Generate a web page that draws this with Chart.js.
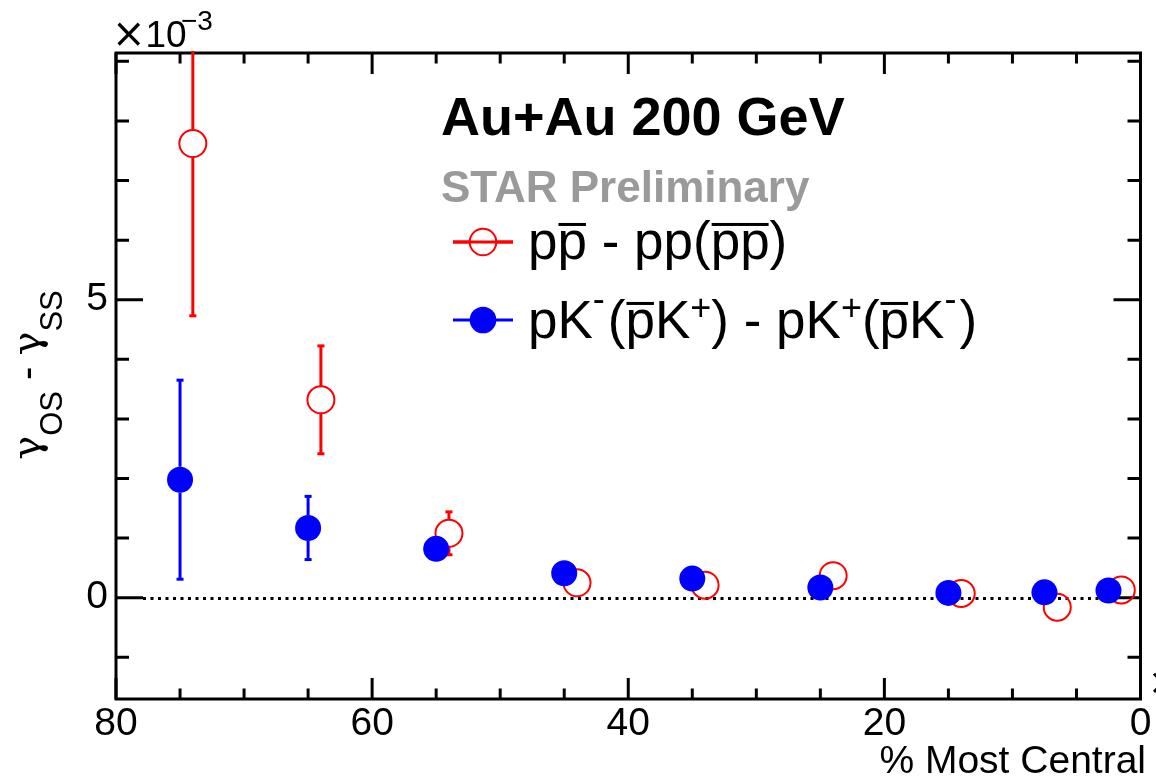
<!DOCTYPE html>
<html><head><meta charset="utf-8">
<script src="https://cdn.jsdelivr.net/npm/chart.js@4.4.1/dist/chart.umd.min.js"></script>
<style>html,body{margin:0;padding:0;background:#fff;}#wrap{width:1156px;height:777px;}</style>
</head><body><div id="wrap"><canvas id="c" width="1156" height="777"></canvas></div>
<script>
// ---- data (values in units of 1e-3) ----
const ppCentrality = [74, 64, 54, 44, 34, 24, 14, 6.5, 1.5];
const ppValues     = [7.62, 3.32, 1.08, 0.25, 0.21, 0.37, 0.07, -0.16, 0.13];
const ppErrors     = [2.89, 0.905, 0.36, 0.12, 0.12, 0.12, 0.12, 0.12, 0.12];
const pkCentrality = [75, 65, 55, 45, 35, 25, 15, 7.5, 2.5];
const pkValues     = [1.98, 1.17, 0.82, 0.41, 0.32, 0.17, 0.08, 0.09, 0.12];
const pkErrors     = [1.67, 0.53, 0.18, 0.1, 0.1, 0.1, 0.1, 0.1, 0.1];
const xTickValues = [0, 20, 40, 60, 80];
const yTickValues = [0, 5];
const xMinorStep = 5;
const yMinorStep = 1;
const xRange = [0, 80];
const yRange = [-1.7, 9.14];

const FONT = "'Liberation Sans', Arial, Helvetica, sans-serif";
const SYM = "'DejaVu Sans', sans-serif";
const GREEK = "'DejaVu Serif', serif";

function segFont(s) {
  return (s.bold ? 'bold ' : '') + s.size + 'px ' + (s.family || FONT);
}
function drawRich(ctx, segs, x, y) {
  let cx = x;
  for (const s of segs) {
    ctx.font = segFont(s);
    ctx.fillStyle = s.color || '#000';
    const w = ctx.measureText(s.t).width;
    ctx.fillText(s.t, cx, y + (s.dy || 0));
    if (s.over) {
      ctx.fillRect(cx + 1, y + (s.dy || 0) - s.size * 0.68, w - 2, 3);
    }
    cx += w + (s.gap || 0);
  }
  return cx - x;
}
function richWidth(ctx, segs) {
  let w = 0;
  for (const s of segs) {
    ctx.font = segFont(s);
    w += ctx.measureText(s.t).width + (s.gap || 0);
  }
  return w;
}

const errorInfo = [
  {values: pkValues, xs: pkCentrality, errs: pkErrors, color: '#0000ff', r: 13},
  {values: ppValues, xs: ppCentrality, errs: ppErrors, color: '#ff0000', r: 13.5}
];

const rootPlugin = {
  id: 'rootStyle',
  beforeDatasetsDraw(chart) {
    const ctx = chart.ctx, a = chart.chartArea;
    const xs = chart.scales.x, ys = chart.scales.y;
    ctx.save();
    ctx.strokeStyle = '#000'; ctx.lineWidth = 3; ctx.lineCap = 'butt';
    ctx.strokeRect(a.left, a.top, a.right - a.left, a.bottom - a.top);
    for (let v = xRange[0]; v <= xRange[1] + 1e-9; v += xMinorStep) {
      const px = xs.getPixelForValue(v);
      const len = xTickValues.includes(v) ? 21 : 10.5;
      ctx.beginPath();
      ctx.moveTo(px, a.bottom); ctx.lineTo(px, a.bottom - len);
      ctx.moveTo(px, a.top); ctx.lineTo(px, a.top + len);
      ctx.stroke();
    }
    for (let v = -1; v <= 9 + 1e-9; v += yMinorStep) {
      const py = ys.getPixelForValue(v);
      const len = yTickValues.includes(v) ? 27 : 13;
      ctx.beginPath();
      ctx.moveTo(a.left, py); ctx.lineTo(a.left + len, py);
      ctx.moveTo(a.right, py); ctx.lineTo(a.right - len, py);
      ctx.stroke();
    }
    const y0 = Math.round(ys.getPixelForValue(0)) + 0.5;
    ctx.setLineDash([3, 4.5]);
    ctx.lineWidth = 3;
    ctx.beginPath(); ctx.moveTo(a.left + 27, y0); ctx.lineTo(a.right - 27, y0); ctx.stroke();
    ctx.setLineDash([]);
    ctx.beginPath(); ctx.rect(a.left, a.top - 2, a.right - a.left, a.bottom - a.top + 2); ctx.clip();
    for (const s of errorInfo) {
      ctx.strokeStyle = s.color; ctx.fillStyle = s.color; ctx.lineWidth = 3;
      s.xs.forEach((xv, i) => {
        const px = xs.getPixelForValue(xv);
        const py = ys.getPixelForValue(s.values[i]);
        const top = ys.getPixelForValue(s.values[i] + s.errs[i]);
        const bot = ys.getPixelForValue(s.values[i] - s.errs[i]);
        if (top < py - s.r) {
          ctx.beginPath(); ctx.moveTo(px, py - s.r); ctx.lineTo(px, top); ctx.stroke();
          ctx.fillRect(px - 3.5, top - 1.5, 7, 3);
        }
        if (bot > py + s.r) {
          ctx.beginPath(); ctx.moveTo(px, py + s.r); ctx.lineTo(px, bot); ctx.stroke();
          ctx.fillRect(px - 3.5, bot - 1.5, 7, 3);
        }
      });
    }
    ctx.restore();
  },
  afterDraw(chart) {
    const ctx = chart.ctx;
    ctx.save();
    ctx.textBaseline = 'alphabetic';
    ctx.textAlign = 'left';
    // exponent label
    drawRich(ctx, [{t: '\u00d7', size: 40, family: SYM}, {t: '10', size: 37}], 112, 47);
    drawRich(ctx, [{t: '\u22123', size: 28}], 181, 30);
    // x-axis partial multiplier at right edge
    drawRich(ctx, [{t: '\u00d7', size: 36, family: SYM}], 1148, 694);
    // x-axis title
    ctx.font = '39px ' + FONT;
    ctx.textAlign = 'right';
    ctx.fillStyle = '#000';
    ctx.fillText('% Most Central', 1146, 773);
    ctx.textAlign = 'left';
    // y-axis title (rotated)
    const ySegs = [
      {t: '\u03b3', size: 40, family: GREEK},
      {t: 'OS', size: 31, dy: 22},
      {t: ' - ', size: 40},
      {t: '\u03b3', size: 40, family: GREEK},
      {t: 'SS', size: 31, dy: 22}
    ];
    const yw = richWidth(ctx, ySegs);
    ctx.save();
    ctx.translate(40, 375 + yw / 2);
    ctx.rotate(-Math.PI / 2);
    drawRich(ctx, ySegs, 0, 0);
    ctx.restore();
    // headline texts
    drawRich(ctx, [{t: 'Au+Au 200 GeV', size: 54, bold: true}], 441, 135);
    drawRich(ctx, [{t: 'STAR Preliminary', size: 44, bold: true, color: '#9a9a9a'}], 441, 202);
    // legend
    const rows = [
      {y: 242, color: '#ff0000', hollow: true, base: 259, segs: [
        {t: 'p', size: 53}, {t: 'p', size: 53, over: true}, {t: ' - pp(', size: 53},
        {t: 'pp', size: 53, over: true}, {t: ')', size: 53}
      ]},
      {y: 320, color: '#0000ff', hollow: false, base: 338, segs: [
        {t: 'pK', size: 53}, {t: '-', size: 36, dy: -27, gap: 3}, {t: '(', size: 53},
        {t: 'p', size: 53, over: true}, {t: 'K', size: 53}, {t: '+', size: 36, dy: -18},
        {t: ') - pK', size: 53}, {t: '+', size: 36, dy: -18}, {t: '(', size: 53},
        {t: 'p', size: 53, over: true}, {t: 'K', size: 53}, {t: '-', size: 36, dy: -27, gap: 3},
        {t: ')', size: 53}
      ]}
    ];
    for (const r of rows) {
      ctx.strokeStyle = r.color; ctx.lineWidth = 3;
      ctx.beginPath(); ctx.moveTo(453, r.y); ctx.lineTo(513, r.y); ctx.stroke();
      ctx.beginPath(); ctx.arc(483, r.y, 13.3, 0, Math.PI * 2);
      if (r.hollow) {
        ctx.fillStyle = '#fff'; ctx.fill();
        ctx.beginPath(); ctx.moveTo(453, r.y); ctx.lineTo(513, r.y); ctx.stroke();
        ctx.lineWidth = 2; ctx.beginPath(); ctx.arc(483, r.y, 13.3, 0, Math.PI * 2); ctx.stroke();
      } else { ctx.fillStyle = r.color; ctx.fill(); }
      drawRich(ctx, r.segs, 528, r.base);
    }
    ctx.restore();
  }
};

const tickFont = {family: FONT, size: 39};
new Chart(document.getElementById('c').getContext('2d'), {
  type: 'scatter',
  data: {
    datasets: [
      {
        label: 'pK-(pbarK+) - pK+(pbarK-)',
        data: pkCentrality.map((x, i) => ({x, y: pkValues[i]})),
        pointRadius: 13, pointHoverRadius: 13,
        pointBackgroundColor: '#0000ff', pointBorderColor: '#0000ff', pointBorderWidth: 0,
        showLine: false, order: 0
      },
      {
        label: 'ppbar - pp(pbarpbar)',
        data: ppCentrality.map((x, i) => ({x, y: ppValues[i]})),
        pointRadius: 13.5, pointHoverRadius: 13.5,
        pointBackgroundColor: 'rgba(0,0,0,0)', pointBorderColor: '#ff0000', pointBorderWidth: 2,
        showLine: false, order: 1
      }
    ]
  },
  options: {
    responsive: false, animation: false, devicePixelRatio: 1,
    layout: {padding: {left: 0, right: 10, top: 53, bottom: 0}},
    plugins: {legend: {display: false}, tooltip: {enabled: false}},
    scales: {
      x: {
        type: 'linear', reverse: true, min: xRange[0], max: xRange[1],
        afterBuildTicks: s => { s.ticks = xTickValues.map(v => ({value: v})); },
        afterFit: s => { s.height = 78; s.paddingLeft = 0; s.paddingRight = 0; },
        grid: {display: false}, border: {display: false},
        ticks: {font: tickFont, color: '#000', padding: -6, maxRotation: 0, autoSkip: false}
      },
      y: {
        type: 'linear', min: yRange[0], max: yRange[1],
        afterBuildTicks: s => { s.ticks = yTickValues.map(v => ({value: v})); },
        afterFit: s => { s.width = 116; },
        grid: {display: false}, border: {display: false},
        ticks: {font: tickFont, color: '#000', padding: 0}
      }
    }
  },
  plugins: [rootPlugin]
});
</script></body></html>
